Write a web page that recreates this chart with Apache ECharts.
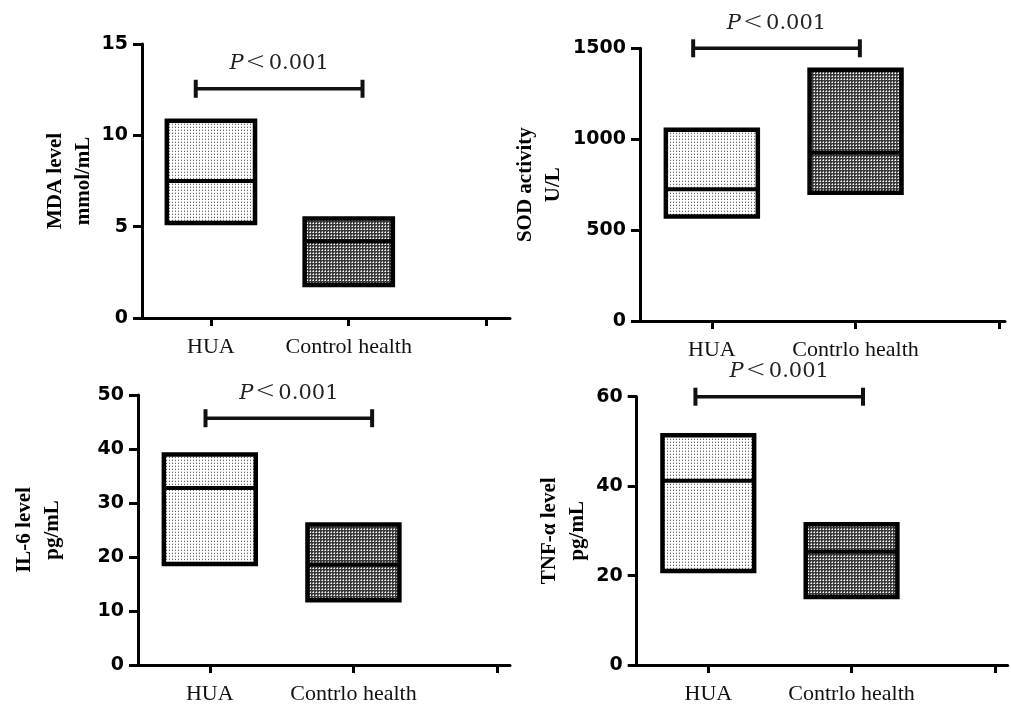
<!DOCTYPE html>
<html>
<head>
<meta charset="utf-8">
<script src="https://cdn.jsdelivr.net/npm/echarts@6/dist/echarts.min.js"></script>
<style>
html,body{margin:0;padding:0;background:#fff;}
#chart{width:1011px;height:705px;}
</style>
</head>
<body>
<div id="chart"></div>
<script>
// ---------- DATA ----------
const categoriesTop = ['HUA', 'Control health'];
const categoriesTopRight = ['HUA', 'Contrlo health'];
const categoriesBottom = ['HUA', 'Contrlo health'];
const groupPositions = [1, 2];

const mdaMin = [5.2, 1.8];
const mdaMedian = [7.5, 4.2];
const mdaMax = [10.8, 5.45];

const sodMin = [575, 705];
const sodMedian = [725, 925];
const sodMax = [1052, 1382];

const il6Min = [18.7, 12.0];
const il6Median = [32.8, 18.6];
const il6Max = [39.0, 26.0];

const tnfMin = [21.0, 15.2];
const tnfMedian = [41.2, 25.3];
const tnfMax = [51.4, 31.5];

// significance bracket: [from x, to x, y]
const mdaSig = [0.89, 2.1, 12.55];
const sodSig = [0.87, 2.03, 1500];
const il6Sig = [0.97, 2.13, 45.7];
const tnfSig = [0.91, 2.08, 60];
const sigP = 'P';
const sigLt = '<';
const sigValue = '0.001';

const yMax = [15, 1500, 50, 60];
const yInterval = [5, 500, 10, 20];
const yNames = ['MDA level\nmmol/mL', 'SOD activity\nU/L', 'IL-6 level\npg/mL', 'TNF-α level\npg/mL'];

// ---------- PATTERNS ----------
function makePattern(bg, dots) {
  const c = document.createElement('canvas');
  c.width = 3; c.height = 3;
  const ctx = c.getContext('2d');
  ctx.fillStyle = bg; ctx.fillRect(0, 0, 3, 3);
  dots.forEach(d => { ctx.fillStyle = d[2]; ctx.fillRect(d[0], d[1], 1, 1); });
  return { image: c, repeat: 'repeat' };
}
const lightPattern = makePattern('#ffffff', [[1, 1, '#6a6a6a'], [1, 0, '#cfcfcf']]);
const darkPattern = makePattern('#3a3a3a', [[1, 1, '#ffffff'], [0, 1, '#b0b0b0'], [1, 0, '#b0b0b0']]);
const fills = [lightPattern, darkPattern];

// ---------- LAYOUT ----------
const grids = [
  { left: 142, top: 44, width: 368, height: 274 },
  { left: 640, top: 48.3, width: 365, height: 272.7 },
  { left: 138, top: 395, width: 372, height: 273.3 },
  { left: 636.7, top: 396.7, width: 371, height: 272.3 }
];
const xMax = [3.17, 3.04, 3.09, 3.09];
const nameGaps = [44, 72, 71, 45];
const catSets = [categoriesTop, categoriesTopRight, categoriesBottom, categoriesBottom];

const boxSets = [
  [mdaMin, mdaMedian, mdaMax],
  [sodMin, sodMedian, sodMax],
  [il6Min, il6Median, il6Max],
  [tnfMin, tnfMedian, tnfMax]
];
const sigSets = [mdaSig, sodSig, il6Sig, tnfSig];

const BOX_W = 0.64;

function boxRender(params, api) {
  const x = api.value(0), lo = api.value(1), med = api.value(2), hi = api.value(3);
  const tl = api.coord([x - BOX_W / 2, hi]);
  const br = api.coord([x + BOX_W / 2, lo]);
  const ml = api.coord([x - BOX_W / 2, med]);
  const mr = api.coord([x + BOX_W / 2, med]);
  return {
    type: 'group',
    children: [
      { type: 'rect', shape: { x: tl[0], y: tl[1], width: br[0] - tl[0], height: br[1] - tl[1] },
        style: { fill: fills[params.dataIndex], stroke: '#000', lineWidth: 4.5, lineJoin: 'miter' } },
      { type: 'line', shape: { x1: ml[0], y1: ml[1], x2: mr[0], y2: mr[1] },
        style: { stroke: '#000', lineWidth: 4 } }
    ]
  };
}

function sigRender(params, api) {
  const a = api.coord([api.value(0), api.value(2)]);
  const b = api.coord([api.value(1), api.value(2)]);
  const cap = 9;
  return {
    type: 'group',
    children: [
      { type: 'line', shape: { x1: a[0], y1: a[1], x2: b[0], y2: b[1] }, style: { stroke: '#111', lineWidth: 3.5 } },
      { type: 'line', shape: { x1: a[0], y1: a[1] - cap, x2: a[0], y2: a[1] + cap }, style: { stroke: '#111', lineWidth: 4 } },
      { type: 'line', shape: { x1: b[0], y1: b[1] - cap, x2: b[0], y2: b[1] + cap }, style: { stroke: '#111', lineWidth: 4 } },
      { type: 'text', x: (a[0] + b[0]) / 2, y: a[1] - 12,
        style: {
          text: '{p|' + sigP + '}{l|' + sigLt + '}{t|' + sigValue + '}',
          align: 'center', verticalAlign: 'bottom',
          rich: {
            p: { fontFamily: 'DejaVu Serif', fontStyle: 'italic', fontSize: 21, fill: '#222', padding: [0, 2, 0, 0] },
            l: { fontFamily: 'DejaVu Sans', fontWeight: 200, fontSize: 24, fill: '#222', padding: [0, 3, 2, 0] },
            t: { fontFamily: 'DejaVu Serif', fontSize: 21, fill: '#222' }
          }
        } }
    ]
  };
}

const option = {
  animation: false,
  backgroundColor: '#fff',
  grid: grids.map(g => Object.assign({ containLabel: false }, g)),
  xAxis: grids.map((g, i) => ({
    type: 'value', gridIndex: i, min: 0.5, max: xMax[i],
    splitLine: { show: false },
    axisLine: { show: true, lineStyle: { color: '#000', width: 3 } },
    axisTick: { show: true, customValues: [1, 2, 3], length: 8, inside: false, lineStyle: { color: '#000', width: 3 } },
    axisLabel: {
      show: true, customValues: [1, 2], margin: 18,
      formatter: v => catSets[i][Math.round(v) - 1] || '',
      fontFamily: 'Liberation Serif', fontSize: 22, color: '#111'
    }
  })),
  yAxis: grids.map((g, i) => ({
    type: 'value', gridIndex: i, min: 0, max: yMax[i], interval: yInterval[i],
    splitLine: { show: false },
    axisLine: { show: true, lineStyle: { color: '#000', width: 3 } },
    axisTick: { show: true, length: 9, lineStyle: { color: '#000', width: 3 } },
    axisLabel: { fontFamily: 'DejaVu Sans', fontWeight: 'bold', fontSize: 19, color: '#000', margin: 14,
      formatter: v => String(v) },
    name: yNames[i], nameLocation: 'middle', nameRotate: 90, nameGap: nameGaps[i],
    nameTextStyle: { fontFamily: 'Liberation Serif', fontWeight: 'bold', fontSize: 21, lineHeight: 28, color: '#000' }
  })),
  series: []
};

boxSets.forEach((set, i) => {
  option.series.push({
    type: 'custom', xAxisIndex: i, yAxisIndex: i,
    renderItem: boxRender, clip: false,
    encode: { x: 0, y: [1, 2, 3] },
    data: groupPositions.map((x, k) => [x, set[0][k], set[1][k], set[2][k]])
  });
  option.series.push({
    type: 'custom', xAxisIndex: i, yAxisIndex: i,
    renderItem: sigRender, clip: false,
    encode: { x: [0, 1], y: 2 },
    data: [sigSets[i]]
  });
});

const chart = echarts.init(document.getElementById('chart'), null, { renderer: 'canvas' });
chart.setOption(option);
</script>
</body>
</html>
